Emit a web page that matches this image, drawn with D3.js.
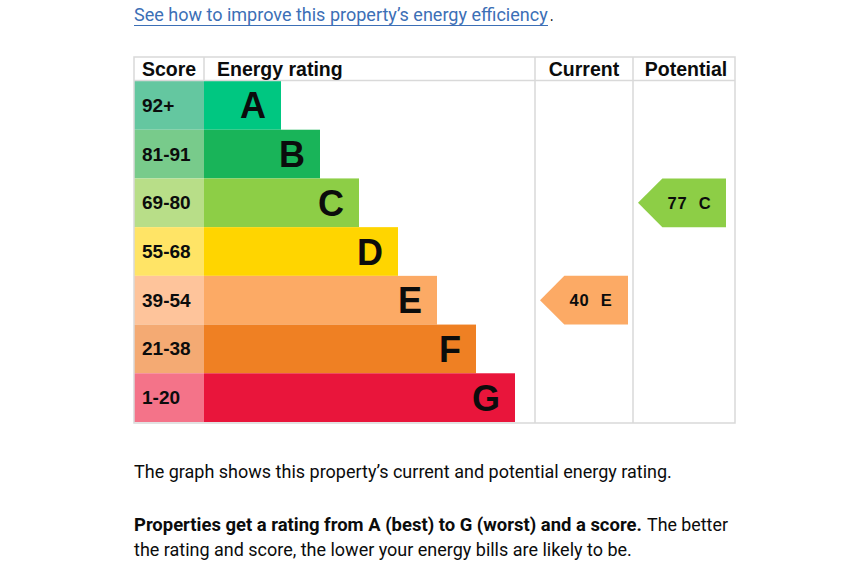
<!DOCTYPE html>
<html>
<head>
<meta charset="utf-8">
<script src="https://cdn.jsdelivr.net/npm/d3@7/dist/d3.min.js"></script>
<style>
  html, body { margin: 0; padding: 0; background: #fff; }
  svg { display: block; }
</style>
</head>
<body>
<svg id="chart" width="850" height="570"></svg>
<script>
// ---- data ----
const bands = ["A", "B", "C", "D", "E", "F", "G"];
const scoreRanges = ["92+", "81-91", "69-80", "55-68", "39-54", "21-38", "1-20"];
const bandColors = ["#00c781", "#19b459", "#8dce46", "#ffd500", "#fcaa65", "#ef8023", "#e9153b"];
const scoreColors = ["#64c7a0", "#78cb8b", "#b8de88", "#ffe466", "#fec49b", "#f4aa73", "#f47389"];
const headers = ["Score", "Energy rating", "Current", "Potential"];
const ratings = [
  { column: "Current", score: 40, band: "E" },
  { column: "Potential", score: 77, band: "C" }
];
const linkText = "See how to improve this property\u2019s energy efficiency";
const para1 = "The graph shows this property\u2019s current and potential energy rating.";
const para2Bold = "Properties get a rating from A (best) to G (worst) and a score.";
const para2Rest = "The better";
const para2Line2 = "the rating and score, the lower your energy bills are likely to be.";

// ---- layout ----
const svg = d3.select("#chart");
const tableL = 134, tableR = 735, tableT = 57, headB = 81, tableB = 423;
const scoreR = 204, curL = 535, potL = 633;
const chartFont = "'Liberation Sans', Arial, sans-serif";
const proseFont = "Roboto, 'Noto Sans', sans-serif";
const proseSize = 18;
const textCol = "#0b0c0c";
const gridCol = "#d9d9d9";
const linkCol = "#3c6fb6";

const y = d3.scaleBand().domain(bands).range([headB, tableB - 1]).padding(0);
const barEnd = d3.scaleLinear().domain([0, bands.length - 1]).range([281, 515]);
const colX = d3.scaleOrdinal().domain(["Current", "Potential"]).range([[curL, potL], [potL, tableR]]);

// score cells
svg.append("g").selectAll("rect").data(bands).join("rect")
  .attr("x", tableL).attr("y", d => y(d))
  .attr("width", scoreR - tableL).attr("height", y.bandwidth())
  .attr("fill", (d, i) => scoreColors[i]);

// bars
svg.append("g").selectAll("rect").data(bands).join("rect")
  .attr("x", scoreR).attr("y", d => y(d))
  .attr("width", (d, i) => barEnd(i) - scoreR).attr("height", y.bandwidth())
  .attr("fill", (d, i) => bandColors[i]);

// score labels
svg.append("g").selectAll("text").data(bands).join("text")
  .attr("x", tableL + 8).attr("y", d => y(d) + y.bandwidth() / 2 + 6.5)
  .attr("font-family", chartFont).attr("font-weight", "bold").attr("font-size", 19)
  .attr("fill", textCol)
  .text((d, i) => scoreRanges[i]);

// band letters
svg.append("g").selectAll("text").data(bands).join("text")
  .attr("x", (d, i) => barEnd(i) - 15).attr("y", d => y(d) + y.bandwidth() / 2 + 13)
  .attr("text-anchor", "end")
  .attr("font-family", chartFont).attr("font-weight", "bold").attr("font-size", 36)
  .attr("fill", textCol)
  .text(d => d);

// grid lines
const g = svg.append("g").attr("stroke", gridCol).attr("stroke-width", 1.5).attr("fill", "none");
g.append("rect").attr("x", tableL).attr("y", tableT).attr("width", tableR - tableL).attr("height", tableB - tableT);
g.append("line").attr("x1", tableL).attr("x2", tableR).attr("y1", headB - 0.5).attr("y2", headB - 0.5);
g.append("line").attr("x1", scoreR).attr("x2", scoreR).attr("y1", tableT).attr("y2", headB);
[curL, potL].forEach(x => g.append("line").attr("x1", x).attr("x2", x).attr("y1", tableT).attr("y2", tableB));

// headers
const headerX = [tableL + 8, scoreR + 13, (curL + potL) / 2, (potL + tableR) / 2 + 2];
const headerAnchor = ["start", "start", "middle", "middle"];
svg.append("g").selectAll("text").data(headers).join("text")
  .attr("x", (d, i) => headerX[i]).attr("y", tableT + 18.5)
  .attr("text-anchor", (d, i) => headerAnchor[i])
  .attr("font-family", chartFont).attr("font-weight", "bold").attr("font-size", 19.5)
  .attr("fill", textCol)
  .text(d => d);

// rating arrows
const arrowW = 88;
const arrows = svg.append("g").selectAll("g").data(ratings).join("g");
arrows.append("path")
  .attr("d", d => {
    const [l] = colX(d.column);
    const x0 = l + 5, x1 = x0 + arrowW;
    const t = y(d.band), b = t + y.bandwidth(), m = t + y.bandwidth() / 2;
    const tip = y.bandwidth() / 2;
    return `M${x0},${m}L${x0 + tip},${t}L${x1},${t}L${x1},${b}L${x0 + tip},${b}Z`;
  })
  .attr("fill", d => bandColors[bands.indexOf(d.band)]);
const at = arrows.append("text")
  .attr("x", d => colX(d.column)[0] + 34.5)
  .attr("y", d => y(d.band) + y.bandwidth() / 2 + 6)
  .attr("font-family", chartFont).attr("font-weight", "bold").attr("font-size", 16.5)
  .attr("letter-spacing", 0.9)
  .attr("fill", textCol);
at.append("tspan").text(d => d.score);
at.append("tspan").attr("dx", 11).text(d => d.band);

// prose helper: draw text and condense horizontally to a target width
function prose(str, x, yy, width, opts = {}) {
  const t = svg.append("text")
    .attr("font-family", proseFont).attr("font-size", proseSize)
    .attr("font-weight", opts.bold ? "bold" : "normal")
    .attr("fill", opts.fill || textCol)
    .text(str);
  const natural = t.node().getComputedTextLength();
  const sx = width / natural;
  t.attr("transform", `translate(${x},${yy}) scale(${sx},1)`);
  return t;
}

// link at top
prose(linkText, tableL, 21, 414, { fill: linkCol });
prose(".", 550, 21, 3.5);
svg.append("line").attr("x1", tableL).attr("x2", 548).attr("y1", 25.5).attr("y2", 25.5)
  .attr("stroke", linkCol).attr("stroke-width", 1.2);

// paragraphs
prose(para1, tableL, 478, 538);
prose(para2Bold, tableL, 531, 508, { bold: true });
prose(para2Rest, 647, 531, 81);
prose(para2Line2, tableL, 556, 498);
</script>
</body>
</html>
